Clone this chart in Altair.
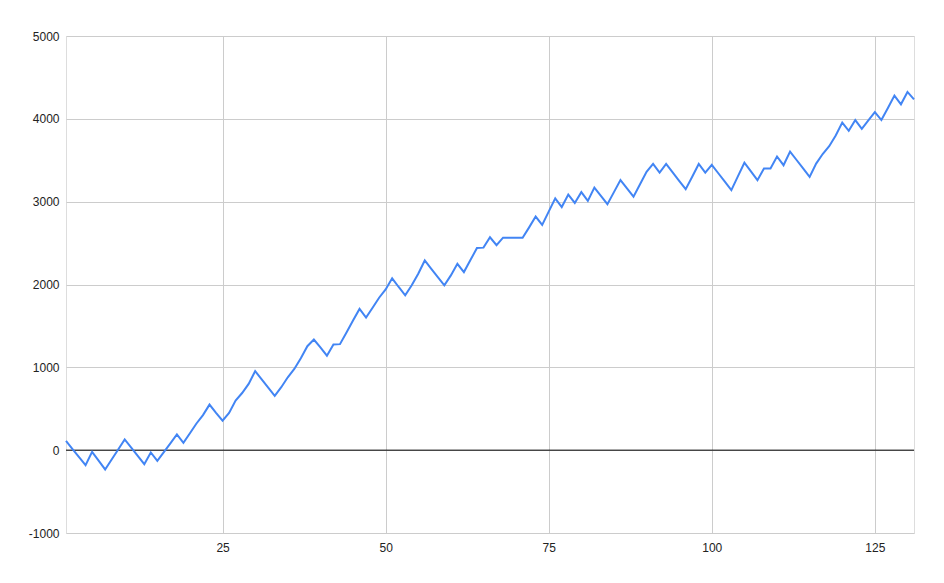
import altair as alt
import pandas as pd

steps = list(range(1, 132))
values = [
    112, 14, -83, -181, -20, -126, -233, -112, 8, 129,          # 1-10
    30, -70, -169, -28, -129, -24, 83, 190, 88, 205,            # 11-20
    322, 423, 550, 450, 355, 450, 600, 690, 800, 955,           # 21-30
    855, 755, 655, 760, 880, 980, 1110, 1255, 1335, 1240,       # 31-40
    1140, 1275, 1280, 1420, 1565, 1705, 1600, 1720, 1840, 1940, # 41-50
    2075, 1970, 1870, 1990, 2130, 2290, 2190, 2090, 1990, 2110, # 51-60
    2250, 2150, 2295, 2440, 2445, 2570, 2475, 2565, 2565, 2565, # 61-70
    2565, 2690, 2820, 2720, 2880, 3040, 2935, 3085, 2985, 3115, # 71-80
    3010, 3170, 3070, 2970, 3115, 3260, 3160, 3060, 3210, 3360, # 81-90
    3455, 3350, 3455, 3353, 3250, 3150, 3300, 3455, 3350, 3445, # 91-100
    3343, 3242, 3140, 3305, 3470, 3365, 3260, 3400, 3400, 3545, # 101-110
    3440, 3605, 3503, 3402, 3300, 3460, 3575, 3670, 3800, 3955, # 111-120
    3855, 3985, 3880, 3980, 4080, 3985, 4130, 4280, 4175, 4325, # 121-130
    4235,                                                       # 131
]
x_ticks = [25, 50, 75, 100, 125]
y_ticks = [-1000, 0, 1000, 2000, 3000, 4000, 5000]

df = pd.DataFrame({"step": steps, "value": values})

FONT = "Liberation Sans"

x_enc = alt.X(
    "step:Q",
    scale=alt.Scale(domain=[1, 131], nice=False, zero=False),
    axis=alt.Axis(
        values=x_ticks, title=None, domain=False, ticks=False,
        grid=True, gridColor="#cccccc", labelPadding=9,
        labelExpr="'' + datum.value",
        labelFont=FONT, labelFontSize=12, labelColor="#222222",
    ),
)
y_enc = alt.Y(
    "value:Q",
    scale=alt.Scale(domain=[-1000, 5000], nice=False),
    axis=alt.Axis(
        values=y_ticks, title=None, domain=False, ticks=False,
        grid=True, gridColor="#cccccc", labelPadding=7,
        labelExpr="'' + datum.value",
        labelFont=FONT, labelFontSize=12, labelColor="#222222",
    ),
)

line = alt.Chart(df).mark_line(color="#4285F4", strokeWidth=2).encode(x=x_enc, y=y_enc)

zero = alt.Chart(pd.DataFrame({"z": [0]})).mark_rule(color="#000000", strokeWidth=1).encode(
    y=alt.Y("z:Q", scale=alt.Scale(domain=[-1000, 5000], nice=False))
)

chart = (
    alt.layer(zero, line)
    .properties(
        width=848,
        height=497,
        autosize=alt.AutoSizeParams(type="none"),
        padding={"left": 58, "top": 28, "right": 20, "bottom": 30},
    )
    .configure_view(stroke=None)
    .configure(background="white")
)

chart.save("out.html", embed_options={"renderer": "svg", "actions": False})
